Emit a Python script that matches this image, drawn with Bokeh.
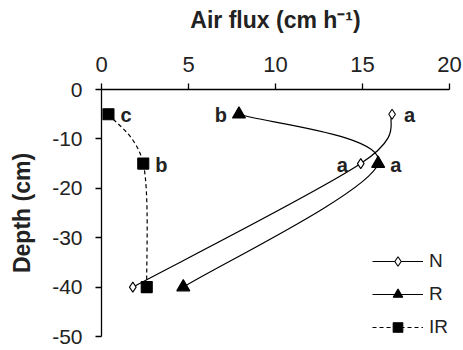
import numpy as np
from bokeh.plotting import figure
from bokeh.models import FixedTicker, Legend, LegendItem
from bokeh.core.properties import value
from bokeh.embed import file_html
from bokeh.resources import INLINE

# ---- data ----
depth = [-5, -15, -40]
flux_N = [16.7, 14.9, 1.8]
flux_R = [7.9, 15.9, 4.7]
flux_IR = [0.4, 2.4, 2.6]
letters_N = ["a", "a", ""]
letters_R = ["b", "a", ""]
letters_IR = ["c", "b", ""]
x_ticks = [0, 5, 10, 15, 20]
y_ticks = [0, -10, -20, -30, -40, -50]

FONT = "Liberation Sans"


def smooth_segments(xs, ys):
    """Bezier control points (Catmull-Rom style smoothing) through the data points."""
    P = np.column_stack([xs, ys]).astype(float)
    E = np.vstack([P[0], P, P[-1]])
    out = {k: [] for k in ("x0", "y0", "x1", "y1", "cx0", "cy0", "cx1", "cy1")}
    for i in range(len(P) - 1):
        p0, p1, p2, p3 = E[i], E[i + 1], E[i + 2], E[i + 3]
        c1 = p1 + (p2 - p0) / 6.0
        c2 = p2 - (p3 - p1) / 6.0
        out["x0"].append(p1[0]); out["y0"].append(p1[1])
        out["x1"].append(p2[0]); out["y1"].append(p2[1])
        out["cx0"].append(c1[0]); out["cy0"].append(c1[1])
        out["cx1"].append(c2[0]); out["cy1"].append(c2[1])
    return out


p = figure(width=463, height=350, output_backend="svg", toolbar_location=None,
           x_range=(0, 20), y_range=(-50, 0), x_axis_location="above",
           min_border_left=101, min_border_right=14, min_border_top=89, min_border_bottom=14)
p.outline_line_color = None
p.xgrid.visible = False
p.ygrid.visible = False
p.background_fill_color = "white"
p.border_fill_color = "white"

xa = p.xaxis[0]
xa.ticker = FixedTicker(ticks=x_ticks)
xa.major_label_overrides = {t: str(t) for t in x_ticks}
xa.axis_label = "Air flux (cm h\u207b\u00b9)"
ya = p.yaxis[0]
ya.ticker = FixedTicker(ticks=y_ticks)
ya.major_label_overrides = {t: str(t) for t in y_ticks}
ya.axis_label = "Depth (cm)"
for ax in (xa, ya):
    ax.minor_tick_line_color = None
    ax.major_tick_in = 0
    ax.major_tick_out = 6
    ax.axis_line_color = "black"
    ax.major_tick_line_color = "black"
    ax.axis_line_width = 1.3
    ax.major_tick_line_width = 1.3
    ax.major_label_text_font = FONT
    ax.major_label_text_font_size = "22px"
    ax.major_label_text_color = "#222222"
    ax.axis_label_text_font = FONT
    ax.axis_label_text_font_size = "23px"
    ax.axis_label_text_font_style = "bold"
    ax.axis_label_text_color = "#222222"
ya.major_label_text_font_size = "21px"
xa.major_label_standoff = 12
xa.axis_label_standoff = 21
ya.major_label_standoff = 13
ya.axis_label_standoff = 14

series = [
    (flux_N, "N", "diamond", "white", 10, None),
    (flux_R, "R", "triangle", "black", 13, None),
    (flux_IR, "IR", "square", "black", 11, "4 3"),
]
items = []
for xs, name, marker, fill, size, dash in series:
    seg = smooth_segments(xs, depth)
    bz = p.bezier(x0=seg["x0"], y0=seg["y0"], x1=seg["x1"], y1=seg["y1"],
                  cx0=seg["cx0"], cy0=seg["cy0"], cx1=seg["cx1"], cy1=seg["cy1"],
                  line_color="black", line_width=1.2,
                  line_dash=dash if dash else "solid")
    sc = p.scatter(xs, depth, marker=marker, size=size, fill_color=fill,
                   line_color="black", line_width=1.1)
    items.append(LegendItem(label=name, renderers=[bz, sc]))

legend = Legend(items=items, location=(271, -3), padding=0, margin=0,
                border_line_color=None, background_fill_alpha=0,
                glyph_width=51, glyph_height=24, label_height=24, spacing=9,
                label_standoff=6, label_text_font=FONT, label_text_font_size="19px",
                label_text_color="#222222")
p.add_layout(legend)

# letter annotations
def put_letters(xs, letters, idx, align, off):
    p.text([xs[i] for i in idx], [depth[i] for i in idx], text=[letters[i] for i in idx],
           text_align=align, text_baseline="middle", x_offset=off, y_offset=1,
           text_font=value(FONT), text_font_size="20px", text_font_style="bold",
           text_color="#222222")

put_letters(flux_N, letters_N, [0], "left", 12)
put_letters(flux_N, letters_N, [1], "right", -13)
put_letters(flux_R, letters_R, [0], "right", -12)
put_letters(flux_R, letters_R, [1], "left", 12)
put_letters(flux_IR, letters_IR, [0, 1], "left", 12)

open("out.html", "w").write(file_html(p, INLINE))
